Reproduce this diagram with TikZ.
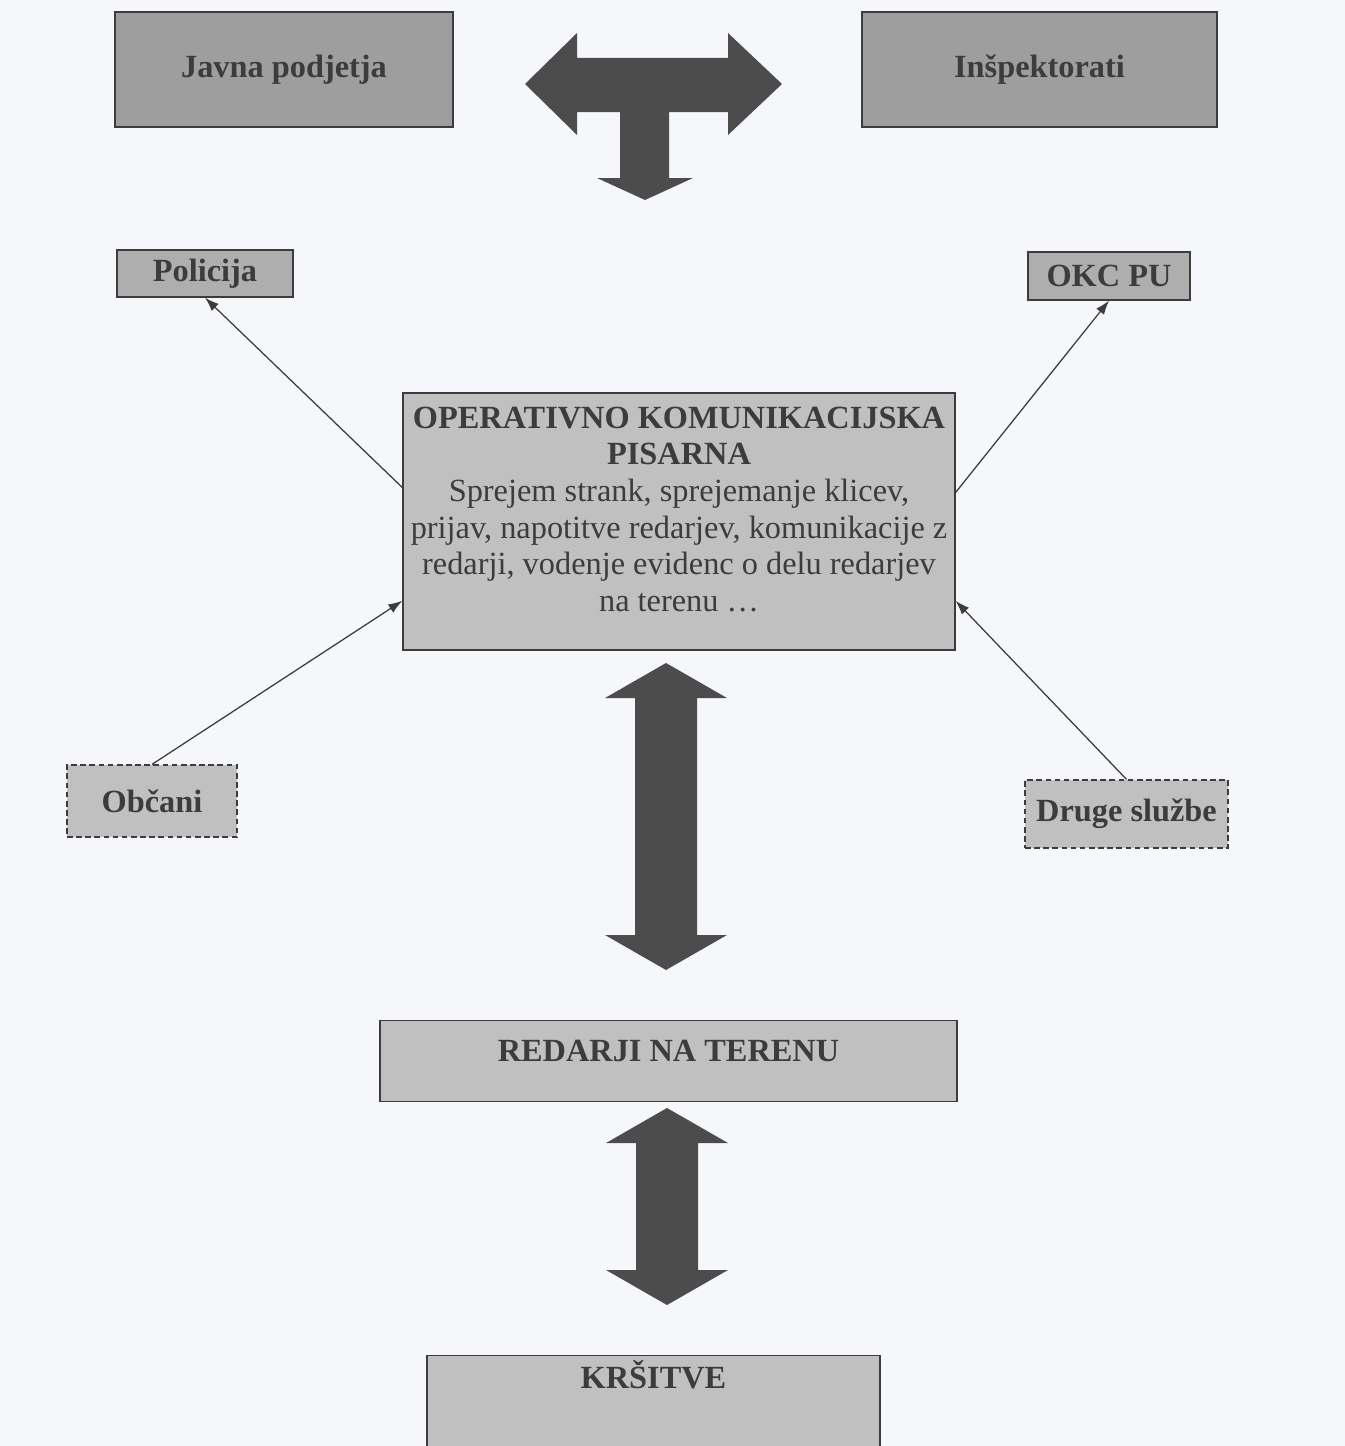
\documentclass[tikz,border=0pt]{standalone}
\usepackage{fontspec}
\setmainfont{Liberation Serif}
\usetikzlibrary{positioning,arrows.meta}

\definecolor{paperColor}{RGB}{246,247,250}
\definecolor{boxDark}{RGB}{158,158,158}
\definecolor{boxMid}{RGB}{174,174,174}
\definecolor{boxLight}{RGB}{192,192,192}
\definecolor{labelColor}{RGB}{60,60,60}
\definecolor{arrowColor}{RGB}{76,76,76}

\tikzstyle{page} = [x = 0.025cm, y = -0.025cm]
\tikzstyle{boxStyle} = [draw=labelColor, line width=0.9pt, inner sep=0pt, align=center, text=labelColor, font=\fontsize{23}{26}\selectfont\bfseries]
\tikzstyle{dashedBox} = [boxStyle, dash pattern=on 4pt off 2.5pt]
\tikzstyle{thinArrow} = [draw=labelColor, line width=0.9pt, -{Latex[length=10pt, width=7pt]}]
\tikzstyle{bigArrow} = [fill=arrowColor, draw=none]
\newcommand{\stemHalf}{31}
\newcommand{\headHalf}{61}
\newcommand{\headLength}{35}
\newcommand{\labelBox}[8]{\node [#2, fill=#3, minimum width=(#6-#4)*0.025cm, minimum height=(#7-#5)*0.025cm] (#1) at ({(#4+#6)/2},{(#5+#7)/2}) {#8};}
\newcommand{\verticalBigArrow}[3]{\fill [bigArrow] (#1, #2) -- (#1 + \headHalf, #2 + \headLength) -- (#1 + \stemHalf, #2 + \headLength) -- (#1 + \stemHalf, #3 - \headLength) -- (#1 + \headHalf, #3 - \headLength) -- (#1, #3) -- (#1 - \headHalf, #3 - \headLength) -- (#1 - \stemHalf, #3 - \headLength) -- (#1 - \stemHalf, #2 + \headLength) -- (#1 - \headHalf, #2 + \headLength) -- cycle;}

\begin{document}
\begin{tikzpicture}[page]
  \fill [paperColor] (0,0) rectangle (1345,1446);
  \useasboundingbox (0,0) rectangle (1345,1446);
  \clip (0,0) rectangle (1345,1446);

  \labelBox{javna}{boxStyle}{boxDark}{115}{12}{453}{127}{Javna podjetja}
  \labelBox{inspektorati}{boxStyle}{boxDark}{862}{12}{1217}{127}{Inšpektorati}
  \labelBox{policija}{boxStyle}{boxMid}{117}{250}{293}{297}{Policija}
  \labelBox{okc}{boxStyle}{boxMid}{1028}{252}{1190}{300}{OKC PU}
  \labelBox{obcani}{dashedBox}{boxLight}{67}{765}{237}{837}{Občani}
  \labelBox{druge}{dashedBox}{boxLight}{1025}{780}{1228}{848}{Druge službe}
  \node [boxStyle, fill=boxLight, anchor=north, minimum width=577*0.025cm, text height=29pt, text depth=28.5pt] (redarji) at (668.5,1020) {REDARJI NA TERENU};
  \node [boxStyle, fill=boxLight, anchor=north, minimum width=453*0.025cm, text height=23.5pt, text depth=75pt] (krsitve) at (653.5,1355) {KRŠITVE};

  % operativno komunikacijska pisarna
  \labelBox{pisarna}{boxStyle}{boxLight}{403}{393}{955}{650}{}
  \node [anchor=north, align=center, text=labelColor, font=\fontsize{23}{26}\selectfont] (pisarnaText) at (679,402) {\textbf{OPERATIVNO KOMUNIKACIJSKA}\\ \textbf{PISARNA}\\ Sprejem strank, sprejemanje klicev,\\ prijav, napotitve redarjev, komunikacije z\\ redarji, vodenje evidenc o delu redarjev\\ na terenu …};

  % velike puscice
  \fill [bigArrow] (525,84) -- (577,33) -- (577,58) -- (728,58) -- (728,33) -- (782,84) -- (728,135) -- (728,112) -- (669,112) -- (669,178) -- (693,178) -- (645,200) -- (597,178) -- (620,178) -- (620,112) -- (577,112) -- (577,135) -- cycle;
  \verticalBigArrow{666}{663}{970}
  \verticalBigArrow{667}{1108}{1305}

  % tanke puscice
  \draw [thinArrow] (pisarna.173.5) -- (policija.south);
  \draw [thinArrow] (pisarna.6.5) -- (okc.south);
  \draw [thinArrow] (obcani.north) -- (pisarna.196);
  \draw [thinArrow] (druge.north) -- (pisarna.344);
\end{tikzpicture}
\end{document}
